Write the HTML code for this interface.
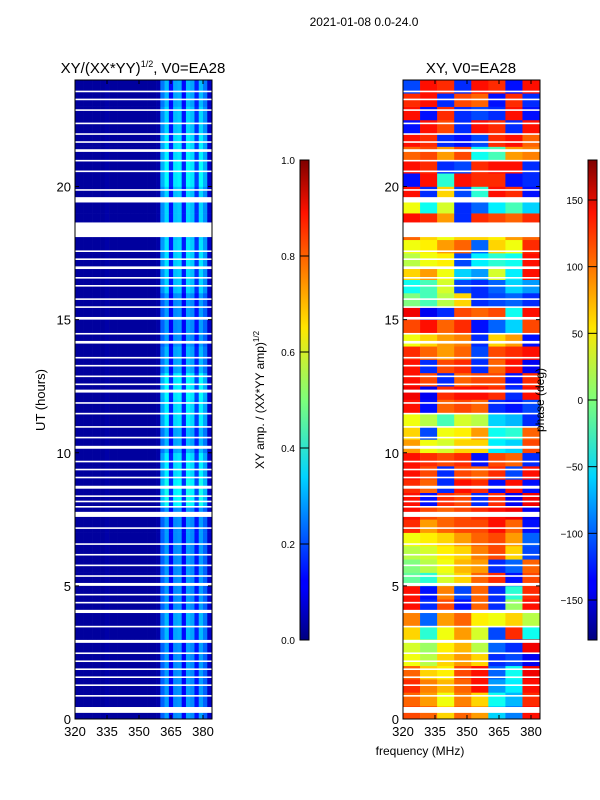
<!DOCTYPE html>
<html><head><meta charset="utf-8"><style>
body{margin:0;background:#fff;}
svg{display:block;font-family:"Liberation Sans","DejaVu Sans",sans-serif;}
</style></head><body>
<svg id="fig" width="600" height="800" viewBox="0 0 600 800">
<text x="364" y="26" font-size="12" text-anchor="middle">2021-01-08 0.0-24.0</text>
<text x="143" y="73" font-size="15" text-anchor="middle">XY/(XX*YY)<tspan font-size="9" dy="-6">1/2</tspan><tspan dy="6">, V0=EA28</tspan></text>
<text x="471" y="73" font-size="15" text-anchor="middle">XY, V0=EA28</text>
<g id="leftMap"></g>
<g id="rightMap"></g>
<g id="gapsG"></g>
<rect x="75" y="80" width="137" height="639" fill="none" stroke="#000" stroke-width="1"/>
<rect x="403" y="80" width="137" height="639" fill="none" stroke="#000" stroke-width="1"/>
<g id="axesG" font-size="13"></g>
<text transform="translate(45,400) rotate(-90)" font-size="13" text-anchor="middle">UT (hours)</text>
<text x="420" y="755" font-size="12" text-anchor="middle">frequency (MHz)</text>
<defs>
<linearGradient id="jet" x1="0" y1="1" x2="0" y2="0">
<stop offset="0" stop-color="#00007f"/><stop offset="0.11" stop-color="#0000ff"/><stop offset="0.125" stop-color="#0000ff"/><stop offset="0.34" stop-color="#00d4ff"/><stop offset="0.5" stop-color="#7dff7a"/><stop offset="0.65" stop-color="#ffe600"/><stop offset="0.89" stop-color="#ff1200"/><stop offset="1" stop-color="#7f0000"/>
</linearGradient>
</defs>
<rect x="300" y="160" width="9" height="480" fill="url(#jet)" stroke="#000" stroke-width="1"/>
<rect x="588" y="160" width="9" height="480" fill="url(#jet)" stroke="#000" stroke-width="1"/>
<g id="cbG" font-size="10"></g>
<text transform="translate(264,400) rotate(-90)" font-size="12" text-anchor="middle">XY amp. / (XX*YY amp)<tspan font-size="8" dy="-5">1/2</tspan></text>
<text transform="translate(544,400) rotate(-90)" font-size="12" text-anchor="middle">phase (deg)</text>
</svg>
<script>
// ---- data ----
const ampFreqs = [320,322,324,326,328,330,332,334,336,338,340,342,344,346,348,350,352,354,356,358,360,362,364,366,368,370,372,374,376,378,380,382];
const ampProfile = [0.03,0.03,0.03,0.03,0.03,0.03,0.03,0.04,0.03,0.03,0.03,0.03,0.03,0.03,0.03,0.03,0.03,0.03,0.03,0.04,0.22,0.28,0.12,0.26,0.27,0.12,0.28,0.26,0.14,0.28,0.22,0.07];
const ampHourScale = [1.0,1.0,1.0,1.1,1.0,1.0,1.0,1.0,1.4,1.3,1.1,1.3,1.35,1.1,1.0,1.0,1.2,1.25,1.2,1.2,1.35,1.3,1.2,1.1];
const phaseFreqs = [320,328,336,344,352,360,368,376];
const phaseRows = [
[110,100,60,100,80,-60,-90,130],[100,80,40,90,60,-40,-70,120],
[120,90,70,100,130,-80,-50,130],[100,60,50,110,130,-100,-40,140],
[40,20,60,80,60,-120,-110,-140],[30,10,50,70,20,-100,-120,140],
[60,-30,40,80,30,-110,120,-40],[90,-100,80,100,50,40,60,20],
[130,-120,110,-130,100,-120,10,130],[130,-130,90,-110,100,-120,-30,120],
[-10,-30,30,60,100,120,-130,110],[0,20,40,70,80,-120,-100,100],
[20,30,50,60,90,110,60,-110],[40,50,60,80,100,110,80,-100],
[120,80,100,110,110,130,100,-130],[130,110,100,110,120,130,140,-140],
[130,-130,120,110,-120,120,-140,140],[120,100,-120,130,120,-130,130,-130],
[130,110,-120,110,100,120,-110,130],[130,120,110,120,-130,110,100,-120],
[80,40,30,60,60,-50,-60,110],[60,-110,40,50,80,-40,-30,100],
[40,20,-20,30,20,-60,-70,-120],[130,-130,100,110,100,-120,-130,-110],
[140,-140,120,130,130,120,-120,130],[130,110,-120,100,110,110,-130,120],
[130,-120,110,120,-120,100,130,-140],[120,100,80,100,-110,110,120,130],
[40,60,80,90,-120,60,80,-130],[110,130,100,120,-130,-100,-60,110],
[140,-140,-120,110,100,110,-40,130],[0,-20,20,60,-120,-110,-100,-120],
[-40,-20,30,-110,-120,-100,-60,-80],[60,80,40,-60,-80,30,-50,130],
[20,40,50,-110,-50,-30,-40,130],[40,50,80,100,-100,60,40,120],
[100,60,40,60,60,50,80,100],[130,120,80,-120,120,110,100,120],
[40,-40,30,-120,-100,-50,-20,-60],[130,-120,60,-110,-30,130,120,-130],
[-130,130,-30,130,120,120,-130,-120],[130,120,-120,-110,120,130,130,-120],
[100,110,80,110,-40,-20,80,90],[130,120,-120,-130,-110,120,130,100],
[-130,130,110,-120,130,120,-120,130],[130,-130,120,-120,-110,-120,130,-130],
[120,130,-120,110,100,-130,120,-120],[-110,130,120,-120,130,120,-130,130]
];
const gapsUT = [[0.23,0.45],[2.86,2.97],[3.98,4.1],[5.0,5.11],[7.59,7.78],[8.65,8.76],[10.15,10.26],[12.26,12.37],[14.1,14.2],[15.0,15.1],[16.9,17.0],[18.1,18.65],[19.4,19.6],[21.3,21.4]];
const thinGapsUT = [0.9,1.3,1.6,1.9,2.2,2.5,3.5,4.4,4.7,5.4,5.8,6.2,6.6,7.2,8.0,8.2,8.4,9.1,9.4,9.7,10.6,11.0,11.5,11.9,12.6,12.9,13.3,13.6,14.5,15.5,15.8,16.3,16.6,17.3,17.6,19.9,20.6,21.0,21.7,22.0,22.4,22.9,23.3,23.6];
const xTicks = [320,335,350,365,380];
const yTicks = [0,5,10,15,20];
const ampCbTicks = [0.0,0.2,0.4,0.6,0.8,1.0];
const phaseCbTicks = [-150,-100,-50,0,50,100,150];

// ---- helpers ----
const NS='http://www.w3.org/2000/svg';
const Y0=719, Y1=80, pxPerH=(Y0-Y1)/24;
const yAt = h => Y0 - h*pxPerH;
const fMin=320, pxPerMHz=128/60;
const xL = f => 75 + (f-fMin)*pxPerMHz;
const xR = f => 403 + (f-fMin)*pxPerMHz;
function jet(v){v=Math.max(0,Math.min(1,v));
 const c=x=>Math.max(0,Math.min(1,x));
 const r=c(1.5-Math.abs(4*v-3)), g=c(1.5-Math.abs(4*v-2)), b=c(1.5-Math.abs(4*v-1));
 return `rgb(${Math.round(r*255)},${Math.round(g*255)},${Math.round(b*255)})`;}
function mk(tag,attrs,parent){const e=document.createElementNS(NS,tag);for(const k in attrs)e.setAttribute(k,attrs[k]);parent.appendChild(e);return e;}

// left amplitude map: half-hour rows
const lm=document.getElementById('leftMap');
for(let r=0;r<48;r++){
 const h=r*0.5, sc=ampHourScale[Math.floor(h)];
 ampFreqs.forEach((f,i)=>{
  const f2 = i+1<ampFreqs.length ? ampFreqs[i+1] : 384.2;
  const v = ampProfile[i]*(ampProfile[i]>0.1?sc:1);
  const e=mk('rect',{x:xL(f),y:yAt(h+0.5),width:xL(f2)-xL(f)+0.3,height:pxPerH*0.5+0.3,fill:jet(v)},lm);
  
  
 });
}
// right phase map
const rm=document.getElementById('rightMap');
phaseRows.forEach((row,r)=>{
 const h=r*0.5;
 row.forEach((p,i)=>{
  const f=phaseFreqs[i], f2= i+1<phaseFreqs.length?phaseFreqs[i+1]:384.2;
  const e=mk('rect',{x:xR(f),y:yAt(h+0.5),width:xR(f2)-xR(f)+0.3,height:pxPerH*0.5+0.3,fill:jet((p+180)/360)},rm);
  
  
 });
});
// gaps
const gg=document.getElementById('gapsG');
gapsUT.forEach(g=>{[75,403].forEach(x0=>{
 const e=mk('rect',{x:x0,y:yAt(g[1]),width:137,height:yAt(g[0])-yAt(g[1]),fill:'#fff'},gg);
 
 
});});
thinGapsUT.forEach(t=>{[75,403].forEach(x0=>{
 const e=mk('rect',{x:x0,y:yAt(t),width:137,height:1.6,fill:'#fff'},gg);
 
 
});});
// axes
const ag=document.getElementById('axesG');
[[xL,75],[xR,403]].forEach(([xf,x0])=>{
 xTicks.forEach(t=>{
  const x=xf(t);
  mk('line',{x1:x,y1:719,x2:x,y2:715,stroke:'#000'},ag);
  mk('line',{x1:x,y1:80,x2:x,y2:84,stroke:'#000'},ag);
  const e=mk('text',{x:x,y:736,'text-anchor':'middle'},ag);e.textContent=t;
  
  
 });
 yTicks.forEach(t=>{
  const y=yAt(t);
  mk('line',{x1:x0,y1:y,x2:x0+4,y2:y,stroke:'#000'},ag);
  mk('line',{x1:x0+137,y1:y,x2:x0+133,y2:y,stroke:'#000'},ag);
  const e=mk('text',{x:x0-4,y:y+5,'text-anchor':'end'},ag);e.textContent=t;
  
  
 });
});
// colorbar ticks
const cg=document.getElementById('cbG');
ampCbTicks.forEach(t=>{
 const y=640-t*480;
 mk('line',{x1:300,y1:y,x2:309,y2:y,stroke:'#000'},cg);
 const e=mk('text',{x:295,y:y+4,'text-anchor':'end'},cg);e.textContent=t.toFixed(1);
 
 
});
phaseCbTicks.forEach(t=>{
 const y=400-t*(480/360);
 mk('line',{x1:588,y1:y,x2:597,y2:y,stroke:'#000'},cg);
 const e=mk('text',{x:583,y:y+4,'text-anchor':'end'},cg);e.textContent=t<0?'\u2212'+(-t):t;
 
 
});
</script>
</body></html>
